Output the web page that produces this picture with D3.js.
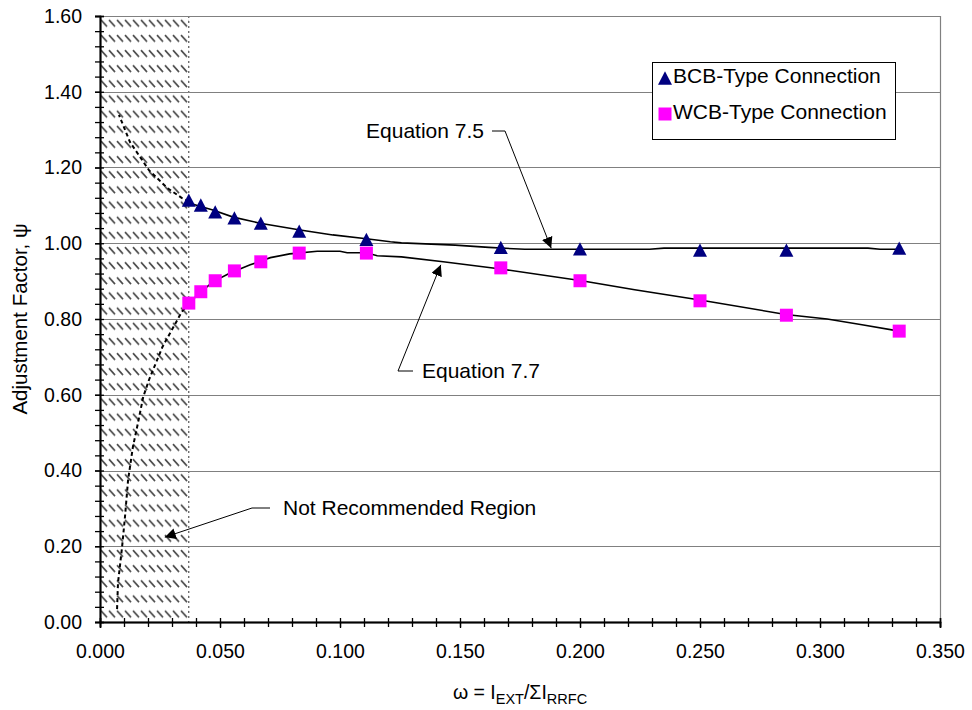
<!DOCTYPE html>
<html>
<head>
<meta charset="utf-8">
<script src="https://cdn.jsdelivr.net/npm/d3@7"></script>
<style>
body { margin: 0; background: #fff; }
text { font-family: "Liberation Sans", Arial, sans-serif; fill: #000; }
</style>
</head>
<body>
<svg id="chart" width="972" height="710"></svg>
<script>
'use strict';

// data
const omega = [0.037, 0.042, 0.048, 0.056, 0.067, 0.083, 0.111, 0.167, 0.200, 0.250, 0.286, 0.333];
const bcb = [1.114, 1.101, 1.083, 1.067, 1.053, 1.032, 1.010, 0.989, 0.985, 0.982, 0.982, 0.987];
const wcb = [0.842, 0.872, 0.901, 0.927, 0.951, 0.974, 0.974, 0.935, 0.901, 0.848, 0.810, 0.768];

// fitted curves, [omega, psi]
const eq75 = [[0.037, 1.106], [0.047, 1.088], [0.0555, 1.069], [0.0667, 1.053], [0.0834, 1.035],
	[0.097, 1.022], [0.111, 1.012], [0.121, 1.004], [0.1256, 1.001], [0.148, 0.995], [0.162, 0.989],
	[0.177, 0.984], [0.229, 0.984], [0.235, 0.987], [0.320, 0.987], [0.325, 0.984], [0.333, 0.984]];
const eq75Extension = [[0.037, 1.110], [0.034, 1.120], [0.028, 1.146], [0.0204, 1.193],
	[0.0125, 1.267], [0.0079, 1.339]];
const eq77 = [[0.037, 0.842], [0.042, 0.871], [0.047, 0.898], [0.054, 0.921], [0.0626, 0.943],
	[0.071, 0.962], [0.079, 0.972], [0.0905, 0.979], [0.100, 0.979], [0.103, 0.975], [0.111, 0.975],
	[0.1155, 0.967], [0.1256, 0.964], [0.143, 0.951], [0.167, 0.932], [0.2007, 0.901], [0.2228, 0.877],
	[0.250, 0.850], [0.2857, 0.812], [0.303, 0.800], [0.3175, 0.785], [0.333, 0.768]];
const eq77Extension = [[0.037, 0.842], [0.034, 0.818], [0.026, 0.726], [0.0204, 0.639], [0.018, 0.594],
	[0.0158, 0.525], [0.0137, 0.462], [0.0117, 0.375], [0.0104, 0.277], [0.0092, 0.198],
	[0.0075, 0.103], [0.0071, 0.032]];

const notRecommended = [0, 0.037];
const yMajor = d3.range(0, 1.601, 0.2);
const yMinor = d3.range(0, 1.601, 0.04);
const xMajor = d3.range(0, 0.3501, 0.05);
const xMinor = d3.range(0, 0.3501, 0.01);
const seriesNames = ["BCB-Type Connection", "WCB-Type Connection"];

// annotations: label + where the arrow points (data coords)
const notes = [
	{text: "Equation 7.5", tip: [0.188, 0.987]},
	{text: "Equation 7.7", tip: [0.142, 0.943]},
	{text: "Not Recommended Region", tip: [0.027, 0.224]}
];

const svg = d3.select("#chart");
const plot = {left: 100, right: 940, top: 16, bottom: 622};

const x = d3.scaleLinear().domain([0, 0.35]).range([plot.left, plot.right]);
const y = d3.scaleLinear().domain([0, 1.6]).range([plot.bottom, plot.top]);

const defs = svg.append("defs");

const hatch = defs.append("pattern")
	.attr("id", "hatch")
	.attr("patternUnits", "userSpaceOnUse")
	.attr("x", plot.left).attr("y", plot.top)
	.attr("width", 8).attr("height", (plot.bottom - plot.top) / 40);
hatch.append("line")
	.attr("x1", 1).attr("y1", 4).attr("x2", 7).attr("y2", 10.5)
	.attr("stroke", "#4a4a4a").attr("stroke-width", 1.7);

defs.append("marker")
	.attr("id", "arrow")
	.attr("viewBox", "0 0 10 10")
	.attr("refX", 10).attr("refY", 5)
	.attr("markerWidth", 11).attr("markerHeight", 11)
	.attr("markerUnits", "userSpaceOnUse")
	.attr("orient", "auto")
	.append("path")
	.attr("d", "M0,0L10,5L0,10Z")
	.attr("fill", "#000");

// hatched region
svg.append("rect")
	.attr("x", x(notRecommended[0]))
	.attr("y", plot.top)
	.attr("width", x(notRecommended[1]) - x(notRecommended[0]))
	.attr("height", plot.bottom - plot.top)
	.attr("fill", "url(#hatch)");
svg.append("line")
	.attr("x1", x(notRecommended[1])).attr("x2", x(notRecommended[1]))
	.attr("y1", plot.top).attr("y2", plot.bottom)
	.attr("stroke", "#333").attr("stroke-width", 1)
	.attr("stroke-dasharray", "2,3");

// gridlines
svg.append("g")
	.selectAll("line")
	.data(yMajor.slice(1))
	.join("line")
	.attr("x1", plot.left).attr("x2", plot.right)
	.attr("y1", d => Math.round(y(d)) + 0.5).attr("y2", d => Math.round(y(d)) + 0.5)
	.attr("stroke", "#808080").attr("stroke-width", 1.2);
svg.append("line")
	.attr("x1", plot.right + 0.5).attr("x2", plot.right + 0.5)
	.attr("y1", plot.top).attr("y2", plot.bottom)
	.attr("stroke", "#808080").attr("stroke-width", 1.2);

// axes (cross ticks = one outward + one inward)
const fmtY = d3.format(".2f");
const fmtX = d3.format(".3f");

const yAxisG = svg.append("g").attr("transform", `translate(${plot.left},0)`);
yAxisG.append("g").call(d3.axisLeft(y).tickValues(yMinor).tickSize(5).tickFormat(""));
yAxisG.append("g").call(d3.axisLeft(y).tickValues(yMinor).tickSize(-4).tickFormat(""));
yAxisG.append("g").call(d3.axisLeft(y).tickValues(yMajor).tickSize(5).tickPadding(13).tickFormat(fmtY));
yAxisG.selectAll("path").attr("stroke-width", 1.5);
yAxisG.selectAll("line").attr("stroke-width", 1.3);
yAxisG.selectAll("text").style("font-size", "19.5px").style("font-family", "Liberation Sans, Arial");

const xAxisG = svg.append("g").attr("transform", `translate(0,${plot.bottom})`);
xAxisG.append("g").call(d3.axisBottom(x).tickValues(xMinor).tickSize(5).tickFormat(""));
xAxisG.append("g").call(d3.axisBottom(x).tickValues(xMinor).tickSize(-4).tickFormat(""));
xAxisG.append("g").call(d3.axisBottom(x).tickValues(xMajor).tickSize(6).tickPadding(16).tickFormat(fmtX));
xAxisG.selectAll("path").attr("stroke-width", 1.5);
xAxisG.selectAll("line").attr("stroke-width", 1.3);
xAxisG.selectAll("text").style("font-size", "19.5px").style("font-family", "Liberation Sans, Arial");

// curves
const line = d3.line().x(d => x(d[0])).y(d => y(d[1]));
[eq75, eq77].forEach(c => svg.append("path")
	.attr("d", line(c)).attr("fill", "none")
	.attr("stroke", "#000").attr("stroke-width", 1.6));
[eq75Extension, eq77Extension].forEach(c => svg.append("path")
	.attr("d", line(c)).attr("fill", "none")
	.attr("stroke", "#000").attr("stroke-width", 2)
	.attr("stroke-dasharray", "4,3"));

// markers
const triangle = {
	draw(ctx, size) {
		const w = Math.sqrt(size), h = w * 0.95;
		ctx.moveTo(0, -h / 2);
		ctx.lineTo(w / 2, h / 2);
		ctx.lineTo(-w / 2, h / 2);
		ctx.closePath();
	}
};
const triPath = d3.symbol().type(triangle).size(14 * 14)();
const sqPath = d3.symbol().type(d3.symbolSquare).size(13 * 13)();

svg.append("g").selectAll("path")
	.data(omega.map((o, i) => [o, bcb[i]]))
	.join("path")
	.attr("d", triPath)
	.attr("transform", d => `translate(${x(d[0])},${y(d[1])})`)
	.attr("fill", "#000080");

svg.append("g").selectAll("path")
	.data(omega.map((o, i) => [o, wcb[i]]))
	.join("path")
	.attr("d", sqPath)
	.attr("transform", d => `translate(${x(d[0])},${y(d[1])})`)
	.attr("fill", "#ff00ff");

// annotations
const notePos = [
	{tx: 484, ty: 131, anchor: "end", d0: 492, d1: 505},
	{tx: 422, ty: 371, anchor: "start", d0: 413, d1: 398},
	{tx: 283, ty: 508, anchor: "start", d0: 270, d1: 252}
];
notes.forEach((n, i) => {
	const p = notePos[i];
	svg.append("text")
		.attr("x", p.tx).attr("y", p.ty).attr("dy", "0.35em")
		.attr("text-anchor", p.anchor)
		.style("font-size", "21px")
		.text(n.text);
	svg.append("line")
		.attr("x1", p.d0).attr("x2", p.d1).attr("y1", p.ty).attr("y2", p.ty)
		.attr("stroke", "#000").attr("stroke-width", 1);
	svg.append("line")
		.attr("x1", p.d1).attr("y1", p.ty)
		.attr("x2", x(n.tip[0])).attr("y2", y(n.tip[1]))
		.attr("stroke", "#000").attr("stroke-width", 1)
		.attr("marker-end", "url(#arrow)");
});

// legend
const legend = svg.append("g").attr("transform", "translate(652,62)");
legend.append("rect")
	.attr("x", 0.5).attr("y", 0.5).attr("width", 243).attr("height", 77)
	.attr("fill", "#fff").attr("stroke", "#000").attr("stroke-width", 1);
const legendMarks = [triPath, sqPath];
const legendFill = ["#000080", "#ff00ff"];
seriesNames.forEach((name, i) => {
	const g = legend.append("g").attr("transform", `translate(0,${14 + i * 36})`);
	g.append("path").attr("d", legendMarks[i])
		.attr("transform", "translate(13,2)")
		.attr("fill", legendFill[i]);
	g.append("text").attr("x", 21).attr("y", 0).attr("dy", "0.35em")
		.style("font-size", "21px").text(name);
});

// axis titles
svg.append("text")
	.attr("transform", `translate(27,${(plot.top + plot.bottom) / 2}) rotate(-90)`)
	.attr("text-anchor", "middle")
	.style("font-size", "20.5px")
	.text("Adjustment Factor, ψ");

const xt = svg.append("text")
	.attr("x", (plot.left + plot.right) / 2).attr("y", 699)
	.attr("text-anchor", "middle")
	.style("font-size", "19.5px");
xt.append("tspan").text("ω = I");
xt.append("tspan").attr("dy", 5).style("font-size", "14.5px").text("EXT");
xt.append("tspan").attr("dy", -5).text("/ΣI");
xt.append("tspan").attr("dy", 5).style("font-size", "14.5px").text("RRFC");
</script>
</body>
</html>
